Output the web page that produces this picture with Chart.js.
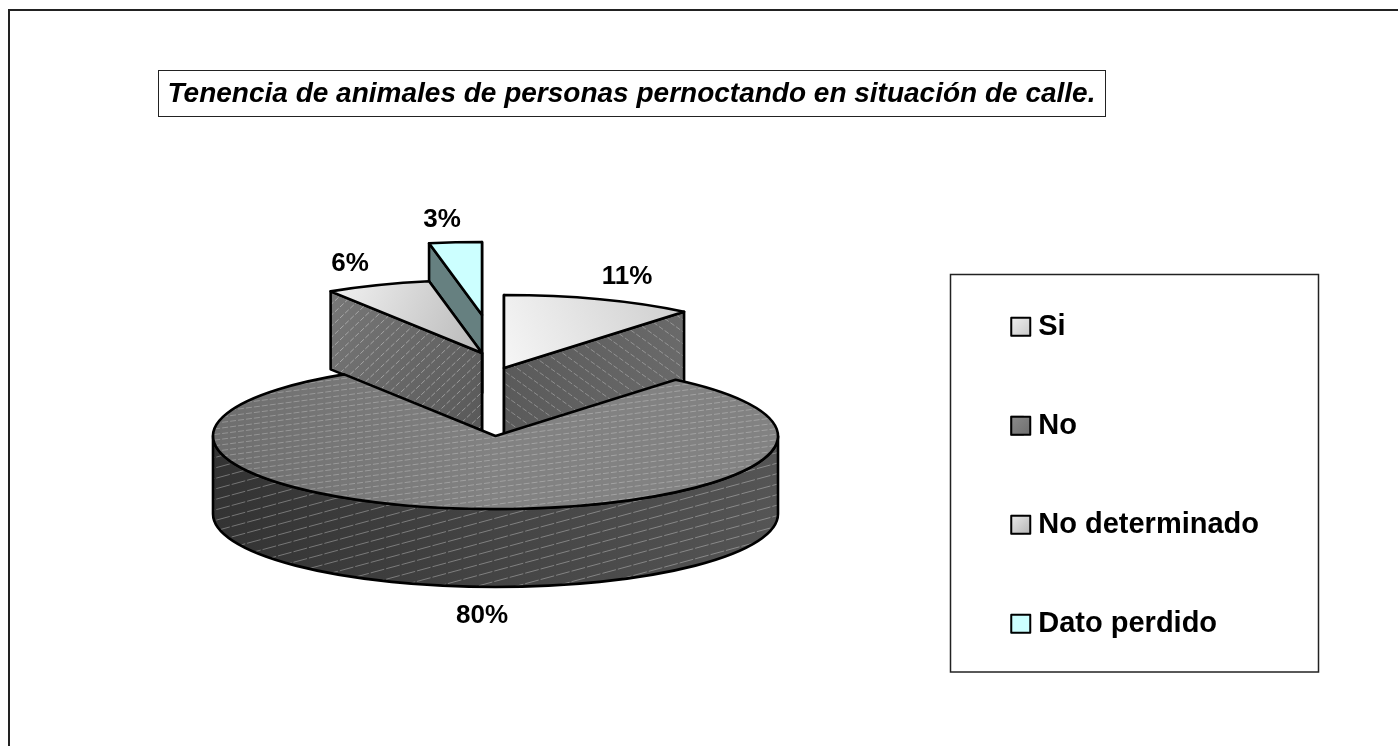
<!DOCTYPE html>
<html>
<head>
<meta charset="utf-8">
<style>html,body{margin:0;padding:0;background:#fff}canvas{display:block}</style>
<script src="https://cdn.jsdelivr.net/npm/chart.js@4/dist/chart.umd.js"></script>
</head>
<body>
<canvas id="c" width="1398" height="746"></canvas>
<script>
const titleText = 'Tenencia de animales de personas pernoctando en situación de calle.';
const categories = ['Si', 'No', 'No determinado', 'Dato perdido'];
const shares = [11, 80, 6, 3];
const sliceColors = ['#e2e2e2', '#808080', '#dcdcdc', '#ccffff'];

/* ---- presentation of the tilted, exploded pie ---- */
const FONT = '"Liberation Sans", Arial, sans-serif';
const PIE = {cx: 495.5, cy: 436, rx: 282.5, ry: 73, depth: 78};
const pulls = [[8.5, -68], [0, 0], [-13.5, -83], [-13.5, -121]];
const labelAnchors = [[123, -91], [-13.5, 180], [-132, -89], [-40, -95]];
const paintOrder = [3, 2, 0, 1];
const tilt = PIE.ry / PIE.rx;

function hatch(ctx, spacing, slope, dash, alpha, from, to) {
  ctx.strokeStyle = 'rgba(255,255,255,' + alpha + ')';
  ctx.lineWidth = 1;
  ctx.setLineDash(dash);
  ctx.beginPath();
  for (let y = from; y < to; y += spacing) {
    ctx.moveTo(0, y);
    ctx.lineTo(1398, y + 1398 * slope);
  }
  ctx.stroke();
  ctx.setLineDash([]);
}
function paintShape(ctx, shape, paint, tex) {
  ctx.save();
  ctx.fillStyle = paint;
  ctx.fill(shape);
  if (tex) { ctx.clip(shape); hatch(ctx, tex.spacing, tex.slope, tex.dash, tex.alpha, tex.from, tex.to); }
  ctx.restore();
  ctx.strokeStyle = '#000';
  ctx.lineWidth = 2.6;
  ctx.lineJoin = 'round';
  ctx.stroke(shape);
}
function grad(ctx, x0, y0, x1, y1, a, b) {
  const g = ctx.createLinearGradient(x0, y0, x1, y1);
  g.addColorStop(0, a); g.addColorStop(1, b);
  return g;
}

const tiltedPie = {
  id: 'tiltedPie',
  beforeDraw(chart) {
    const ctx = chart.ctx;
    ctx.save();
    ctx.fillStyle = '#fff';
    ctx.fillRect(0, 0, 1398, 746);
    /* page frame: top and left rules only */
    ctx.strokeStyle = '#222';
    ctx.lineWidth = 2;
    ctx.beginPath();
    ctx.moveTo(1398, 10); ctx.lineTo(9, 10); ctx.lineTo(9, 746);
    ctx.stroke();
    ctx.strokeStyle = '#222';
    ctx.lineWidth = 1;
    ctx.strokeRect(158.5, 70.5, 947, 46);
    ctx.lineWidth = 1.5;
    ctx.strokeRect(950.5, 274.5, 368, 397.5);
    ctx.restore();
  },
  beforeDatasetsDraw(chart) {
    const ctx = chart.ctx;
    const arcs = chart.getDatasetMeta(0).data;
    const place = i => {
      const a = arcs[i];
      ctx.translate(PIE.cx + pulls[i][0], PIE.cy + pulls[i][1]);
      ctx.scale(1, tilt);
      ctx.translate(-a.x, -a.y);
    };
    const dev = (i, ang) => {
      const a = arcs[i];
      return [PIE.cx + pulls[i][0] + a.outerRadius * Math.cos(ang),
              PIE.cy + pulls[i][1] + a.outerRadius * tilt * Math.sin(ang)];
    };
    for (const i of paintOrder) {
      const a = arcs[i];
      const ox = PIE.cx + pulls[i][0], oy = PIE.cy + pulls[i][1];
      const R = a.outerRadius, Ry = R * tilt;
      const span = a.endAngle - a.startAngle;
      if (span < Math.PI) {
        /* cut faces of a pulled slice, the one nearer the viewer last */
        const cuts = [a.startAngle, a.endAngle].sort((p, q) => Math.sin(p) - Math.sin(q));
        for (const ang of cuts) {
          const p = dev(i, ang);
          const wall = new Path2D();
          wall.moveTo(ox, oy); wall.lineTo(p[0], p[1]);
          wall.lineTo(p[0], p[1] + PIE.depth); wall.lineTo(ox, oy + PIE.depth);
          wall.closePath();
          let paint, tex = null;
          if (i === 3) paint = '#668080';
          else if (i === 2) {
            paint = grad(ctx, p[0], oy - 40, ox, oy + 60, '#767676', '#5a5a5a');
            tex = {spacing: 11, slope: -0.95, dash: [5, 2], alpha: .38, from: 300, to: 1800};
          } else {
            paint = grad(ctx, ox, oy, p[0], oy, '#5a5a5a', '#6a6a6a');
            tex = {spacing: 12, slope: 0.72, dash: [5, 2], alpha: .3, from: -1000, to: 500};
          }
          paintShape(ctx, wall, paint, tex);
        }
      } else {
        /* visible rim of the large slice */
        const rim = new Path2D();
        rim.ellipse(ox, oy, R, Ry, 0, Math.PI, 0, true);
        rim.lineTo(ox + R, oy + PIE.depth);
        rim.ellipse(ox, oy + PIE.depth, R, Ry, 0, 0, Math.PI, false);
        rim.closePath();
        paintShape(ctx, rim, grad(ctx, ox - R, 0, ox + R, 0, '#333333', '#555555'),
          {spacing: 10.5, slope: -0.27, dash: [14, 2], alpha: .32, from: 400, to: 1000});
      }
      /* top face: the library's own arc element, tilted */
      ctx.save();
      place(i);
      a.draw(ctx, chart.chartArea);
      ctx.restore();
      const face = new Path2D();
      face.moveTo(ox, oy);
      face.ellipse(ox, oy, R, Ry, 0, a.startAngle, a.endAngle);
      face.closePath();
      if (i === 1) {
        paintShape(ctx, face, grad(ctx, ox - R, 0, ox, 0, '#6e6e6e', '#828282'),
          {spacing: 5.6, slope: -0.13, dash: [6, 2], alpha: .26, from: 300, to: 700});
      } else if (i === 0) {
        paintShape(ctx, face, grad(ctx, ox, oy, ox + 170, oy - 75, '#f6f6f6', '#cfcfcf'));
      } else if (i === 2) {
        paintShape(ctx, face, grad(ctx, ox - 150, oy - 70, ox, oy, '#f2f2f2', '#b8b8b8'));
      } else {
        paintShape(ctx, face, sliceColors[i]);
      }
    }
    return false;
  },
  afterDraw(chart) {
    const ctx = chart.ctx;
    ctx.save();
    /* legend swatches */
    const tones = [['#f0f0f0', '#c8c8c8'], ['#8c8c8c', '#6e6e6e'], ['#ececec', '#b4b4b4'], ['#ccffff', '#ccffff']];
    chart.legend.legendHitBoxes.forEach((h, i) => {
      const top = h.top + h.height / 2 - 10;
      ctx.fillStyle = grad(ctx, h.left, top, h.left + 20, top + 20, tones[i][0], tones[i][1]);
      ctx.fillRect(h.left + 1, top + 1, 19, 18);
      ctx.strokeStyle = '#000';
      ctx.lineWidth = 2;
      ctx.strokeRect(h.left + 1, top + 1, 19, 18);
    });
    /* value labels */
    ctx.fillStyle = '#000';
    ctx.font = 'bold 26px ' + FONT;
    ctx.textAlign = 'center';
    ctx.textBaseline = 'middle';
    shares.forEach((v, i) => {
      ctx.fillText(v + '%', PIE.cx + pulls[i][0] + labelAnchors[i][0], PIE.cy + pulls[i][1] + labelAnchors[i][1]);
    });
    ctx.restore();
  }
};

new Chart(document.getElementById('c'), {
  type: 'pie',
  data: {
    labels: categories,
    datasets: [{data: shares, backgroundColor: sliceColors, borderWidth: 0}]
  },
  plugins: [tiltedPie],
  options: {
    responsive: false,
    animation: false,
    radius: PIE.rx,
    layout: {padding: {left: -6, right: 129, top: 0, bottom: 0}},
    plugins: {
      tooltip: {enabled: false},
      title: {
        display: true,
        text: titleText,
        color: '#000',
        fullSize: true,
        font: {family: FONT, size: 28, weight: 'bold', style: 'italic', lineHeight: 1.2},
        padding: {top: 77, bottom: 94}
      },
      legend: {
        display: true,
        position: 'right',
        fullSize: false,
        labels: {
          color: '#000',
          font: {family: FONT, size: 29, weight: 'bold'},
          boxWidth: 13.5,
          boxHeight: 20,
          padding: 70
        }
      }
    }
  }
});
</script>
</body>
</html>
